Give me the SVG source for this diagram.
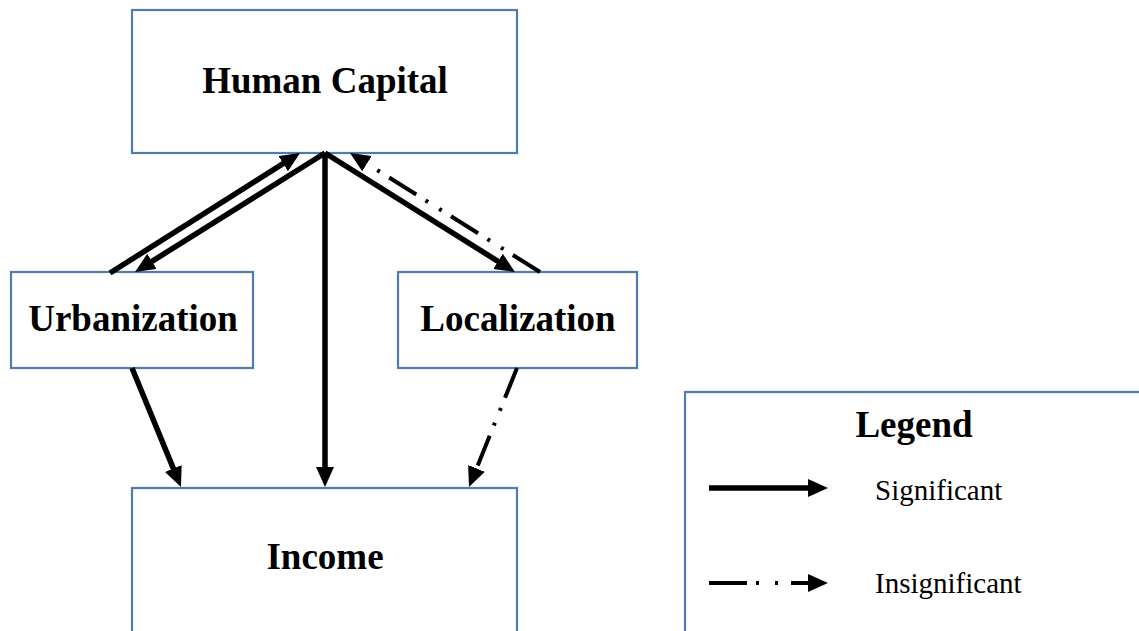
<svg xmlns="http://www.w3.org/2000/svg" width="1139" height="631" viewBox="0 0 1139 631">
<style>
.box{fill:#fff;stroke:#4f7cae;stroke-width:2.2}
.lbl{font-family:"Liberation Serif","Times New Roman",serif;font-weight:bold;font-size:37px;fill:#000;text-anchor:middle}
.leg{font-family:"Liberation Serif","Times New Roman",serif;font-size:29px;fill:#000}
.sig{stroke:#000;stroke-width:5.5;fill:none;marker-end:url(#ah)}
.ins{stroke:#000;stroke-width:4;fill:none;stroke-dasharray:32 11 3 13 3 11;marker-end:url(#ah)}
</style>
<defs>
<marker id="ah" markerUnits="userSpaceOnUse" markerWidth="22" markerHeight="20" refX="8" refY="9" orient="auto" viewBox="0 0 22 20">
<path d="M0,0 L20,9 L0,18 Z" fill="#000"/>
</marker>
</defs>
<rect width="1139" height="631" fill="#fff"/>
<g id="human-capital"><rect class="box" x="132" y="10" width="385" height="143"/><text class="lbl" x="325" y="93">Human Capital</text></g>
<g id="urbanization"><rect class="box" x="11" y="272" width="242" height="96"/><text class="lbl" x="133" y="331">Urbanization</text></g>
<g id="localization"><rect class="box" x="398" y="272" width="239" height="96"/><text class="lbl" x="518" y="331">Localization</text></g>
<g id="income"><rect class="box" x="132" y="488" width="385" height="150"/><text class="lbl" x="325" y="569">Income</text></g>
<g id="legend"><rect class="box" x="685" y="392" width="470" height="250"/>
<text class="lbl" x="914" y="437">Legend</text>
<line class="sig" x1="709" y1="488" x2="816" y2="488"/>
<text class="leg" x="875" y="500">Significant</text>
<line class="ins" style="stroke-dasharray:38 9 3 16 3 13 60" x1="709" y1="583" x2="816" y2="583"/>
<text class="leg" x="875" y="593">Insignificant</text>
</g>
<g id="connectors">
<line class="sig" x1="110" y1="273" x2="289.9" y2="159.4"/>
<line class="sig" x1="325" y1="153" x2="145.2" y2="265.6"/>
<line class="sig" x1="325" y1="153" x2="325" y2="475"/>
<line class="sig" x1="325" y1="153" x2="504.8" y2="265.6"/>
<line class="ins" x1="540" y1="272" x2="360.2" y2="159.4"/>
<line class="sig" x1="132" y1="368" x2="176.4" y2="475.9"/>
<line class="ins" x1="517" y1="368" x2="473.5" y2="475.9"/>
</g>
</svg>
